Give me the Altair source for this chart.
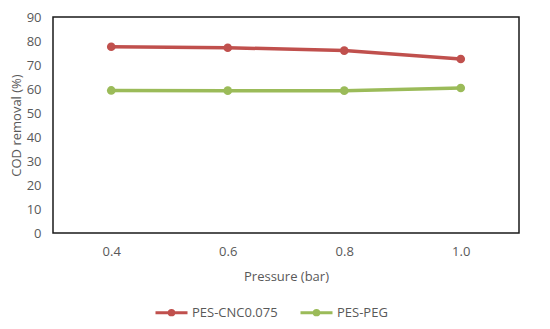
import altair as alt
import pandas as pd

pressure = ["0.4", "0.6", "0.8", "1.0"]
cnc = [77.6, 77.2, 76.0, 72.5]
peg = [59.4, 59.3, 59.3, 60.4]
series = ["PES-CNC0.075", "PES-PEG"]
colors = ["#C0504D", "#9BBB59"]

rows = []
for p, v in zip(pressure, cnc):
    rows.append({"Pressure": p, "Value": v, "Series": series[0]})
for p, v in zip(pressure, peg):
    rows.append({"Pressure": p, "Value": v, "Series": series[1]})
df = pd.DataFrame(rows)

FONT = "Open Sans"
GRAY = "#595959"

sym = "M-1,0 L1,0 M-0.14,0 A0.14,0.14 0 1,0 0.14,0 A0.14,0.14 0 1,0 -0.14,0 M-0.05,0 A0.05,0.05 0 1,0 0.05,0 A0.05,0.05 0 1,0 -0.05,0"

chart = alt.Chart(df).mark_line(
    strokeWidth=3.5,
    point=alt.OverlayMarkDef(filled=True, size=75, opacity=1),
).encode(
    x=alt.X("Pressure:O", sort=pressure,
            scale=alt.Scale(type="point", padding=0.5),
            axis=alt.Axis(title="Pressure (bar)", labelAngle=0, ticks=False,
                          domain=False, labelPadding=12, titlePadding=12)),
    y=alt.Y("Value:Q", scale=alt.Scale(domain=[0, 90], nice=False),
            axis=alt.Axis(title="COD removal (%)", values=list(range(0, 91, 10)),
                          ticks=False, domain=False, grid=False,
                          labelPadding=12, titlePadding=3)),
    color=alt.Color("Series:N", sort=series,
                    scale=alt.Scale(domain=series, range=colors),
                    legend=alt.Legend(title=None, orient="none", direction="horizontal",
                                      legendX=101, legendY=278,
                                      symbolType=sym, symbolSize=1024,
                                      symbolStrokeWidth=3, columnPadding=16,
                                      labelOffset=3)),
).properties(
    width=466, height=216,
    autosize=alt.AutoSizeParams(type="none"),
    padding={"left": 45, "top": 9, "right": 23, "bottom": 88},
).configure_view(
    stroke="#1a1a1a", strokeWidth=1.5
).configure_axis(
    labelFont=FONT, titleFont=FONT, labelFontSize=13, titleFontSize=13,
    labelColor=GRAY, titleColor=GRAY, titleFontWeight="normal", grid=False
).configure_legend(
    labelFont=FONT, labelFontSize=13, labelColor=GRAY
)

chart.save("out.html", embed_options={"renderer": "svg", "actions": False})
